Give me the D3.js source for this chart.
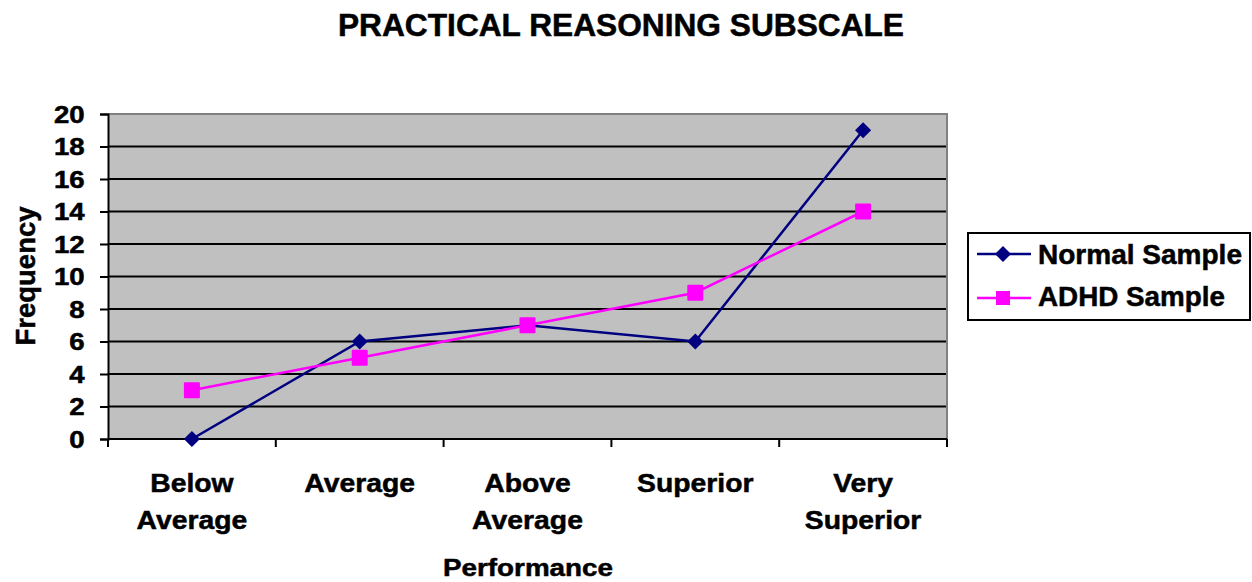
<!DOCTYPE html>
<html><head><meta charset="utf-8">
<script src="https://cdn.jsdelivr.net/npm/d3@7"></script>
<style>body{margin:0;background:#fff;} text{font-family:"Liberation Sans",Arial,sans-serif;font-weight:bold;fill:#000;stroke:#000;stroke-width:0.5px;}</style>
</head><body>
<svg id="c" width="1252" height="582"></svg>
<script>
const categories = [["Below","Average"],["Average"],["Above","Average"],["Superior"],["Very","Superior"]];
const normalValues = [0, 6, 7, 6, 19];
const adhdValues = [3, 5, 7, 9, 14];
const yTicks = [0,2,4,6,8,10,12,14,16,18,20];
const seriesNames = ["Normal Sample","ADHD Sample"];

const svg = d3.select("#c");
const L=108, R=947, T=114, B=439;
const x = d3.scaleBand().domain(d3.range(categories.length)).range([L,R]);
const y = d3.scaleLinear().domain([0,20]).range([B,T]);

svg.append("rect").attr("x",L).attr("y",T).attr("width",R-L).attr("height",B-T).attr("fill","#c0c0c0");
svg.append("g").selectAll("line").data(yTicks.filter(d=>d>0&&d<20)).join("line")
  .attr("x1",L).attr("x2",R).attr("y1",d=>y(d)).attr("y2",d=>y(d)).attr("stroke","#000").attr("stroke-width",2);
svg.append("path").attr("d",`M${L},${T}H${R}V${B}`).attr("fill","none").attr("stroke","#808080").attr("stroke-width",2);

// y axis
const ya = svg.append("g").attr("transform",`translate(${L},0)`)
  .call(d3.axisLeft(y).tickValues(yTicks).tickSize(8));
ya.select(".domain").attr("stroke","#000").attr("stroke-width",2);
ya.selectAll(".tick line").attr("stroke","#000").attr("stroke-width",2);
ya.selectAll(".tick text").attr("font-size",23).attr("fill","#000")
  .attr("font-family","Liberation Sans, Arial").attr("font-weight","bold")
  .attr("x",-19.5).attr("dy","0.36em").attr("transform","scale(1.2,1)");

// x axis
svg.append("line").attr("x1",L).attr("x2",R).attr("y1",B).attr("y2",B).attr("stroke","#000").attr("stroke-width",2);
const bounds = d3.range(categories.length+1).map(i=>L+i*x.bandwidth());
svg.append("g").selectAll("line").data(bounds).join("line")
  .attr("x1",d=>d).attr("x2",d=>d).attr("y1",B).attr("y2",B+8).attr("stroke","#000").attr("stroke-width",2);
const cx = i=>x(i)+x.bandwidth()/2;
const xl = svg.append("g").selectAll("g").data(categories).join("g")
  .attr("transform",(d,i)=>`translate(${cx(i)},0) scale(1.09,1)`);
xl.each(function(d){ const g=d3.select(this); d.forEach((s,j)=>g.append("text").attr("x",0).attr("y",492+j*37).attr("text-anchor","middle").attr("font-size",26).text(s)); });

const line = d3.line().x((d,i)=>cx(i)).y(d=>y(d));
svg.append("path").datum(normalValues).attr("d",line).attr("fill","none").attr("stroke","#000080").attr("stroke-width",2.5);
svg.append("path").datum(adhdValues).attr("d",line).attr("fill","none").attr("stroke","#ff00ff").attr("stroke-width",2.5);
const diamond = d3.symbol().type(d3.symbolDiamond2).size(165);
svg.append("g").selectAll("path").data(normalValues).join("path")
  .attr("d",diamond).attr("transform",(d,i)=>`translate(${cx(i)},${y(d)})`).attr("fill","#000080");
svg.append("g").selectAll("rect").data(adhdValues).join("rect")
  .attr("x",(d,i)=>cx(i)-8).attr("y",d=>y(d)-8).attr("width",16).attr("height",16).attr("rx",1).attr("fill","#ff00ff");

// titles
svg.append("text").attr("x",338).attr("y",36).attr("font-size",30.5)
  .attr("textLength",566).attr("lengthAdjust","spacingAndGlyphs").text("PRACTICAL REASONING SUBSCALE");
svg.append("text").attr("x",443).attr("y",576).attr("font-size",24)
  .attr("textLength",170).attr("lengthAdjust","spacingAndGlyphs").text("Performance");
svg.append("text").attr("transform","translate(35,276) rotate(-90)").attr("text-anchor","middle").attr("font-size",27.5).text("Frequency");

// legend
svg.append("rect").attr("x",968).attr("y",233).attr("width",282).attr("height",87).attr("fill","#fff").attr("stroke","#000").attr("stroke-width",2);
const cols=["#000080","#ff00ff"];
const lineY=[254,298], textY=[264,306], textW=[204,187];
seriesNames.forEach((n,i)=>{
  const yy=lineY[i];
  svg.append("line").attr("x1",977).attr("x2",1031).attr("y1",yy).attr("y2",yy).attr("stroke",cols[i]).attr("stroke-width",2.5);
  if(i===0) svg.append("path").attr("d",diamond).attr("transform",`translate(1003,${yy})`).attr("fill",cols[i]);
  else svg.append("rect").attr("x",996).attr("y",yy-7).attr("width",14).attr("height",14).attr("fill",cols[i]);
  svg.append("text").attr("x",1038).attr("y",textY[i]).attr("font-size",27)
    .attr("textLength",textW[i]).attr("lengthAdjust","spacingAndGlyphs").text(n);
});
</script>
</body></html>
